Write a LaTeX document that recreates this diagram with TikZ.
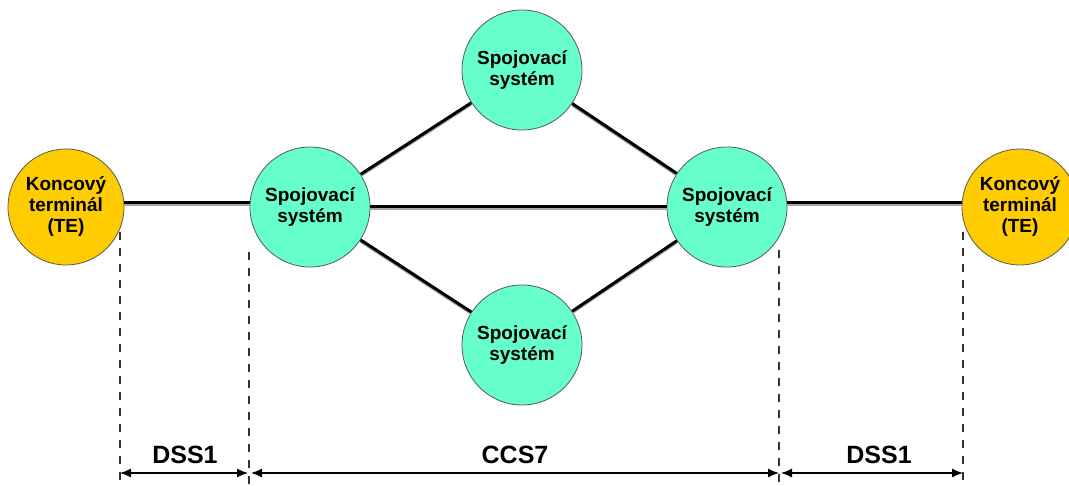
\documentclass[tikz,border=0pt]{standalone}
\usepackage{fontspec}
\setmainfont{Liberation Sans}
\usetikzlibrary{arrows.meta}
\definecolor{sscol}{RGB}{102,255,204}
\definecolor{tecol}{RGB}{255,204,0}
\begin{document}
\begin{tikzpicture}[x=1pt,y=-1pt,
  ss/.style={circle, draw=black!65, line width=0.8pt, fill=sscol, minimum size=120pt, inner sep=0pt, align=center, font=\fontsize{19}{21}\selectfont\bfseries},
  te/.style={circle, draw=black!65, line width=0.8pt, fill=tecol, minimum size=116pt, inner sep=0pt, align=center, font=\fontsize{19}{21}\selectfont\bfseries},
  link/.style={line width=3pt, black},
  shade/.style={line width=2pt, black!35, transform canvas={yshift=-2pt}},
  guide/.style={dash pattern=on 8pt off 8pt, line width=1.3pt, black!80},
  meas/.style={{Latex[length=11pt,width=9pt]}-{Latex[length=11pt,width=9pt]}, line width=1.3pt},
  lab/.style={font=\fontsize{25}{28}\selectfont\bfseries}]
\useasboundingbox (0,0) rectangle (1069,486);
% nodes
\node[te] (te1) at (66,207) {Koncový\\terminál\\(TE)};
\node[ss] (ssl) at (310,207) {Spojovací\\systém};
\node[ss] (sst) at (522,70) {Spojovací\\systém};
\node[ss] (ssb) at (522,345) {Spojovací\\systém};
\node[ss] (ssr) at (727,207) {Spojovací\\systém};
\node[te] (te2) at (1020,207) {Koncový\\terminál\\(TE)};
% links
\foreach \a/\b in {ssl/ssr, ssl/sst, sst/ssr, ssl/ssb, ssb/ssr}{
  \draw[shade] (\a) -- (\b);
  \draw[link] (\a) -- (\b);
}
\draw[shade] ([yshift=4pt]te1.east) -- ([yshift=4pt]ssl.west);
\draw[link] ([yshift=4pt]te1.east) -- ([yshift=4pt]ssl.west);
\draw[shade] ([yshift=4pt]ssr.east) -- ([yshift=4pt]te2.west);
\draw[link] ([yshift=4pt]ssr.east) -- ([yshift=4pt]te2.west);
% dimension guides
\coordinate (g1t) at (120,232); \coordinate (g1b) at (120,484);
\coordinate (g2t) at (249,252); \coordinate (g2b) at (249,484);
\coordinate (g3t) at (779,250); \coordinate (g3b) at (779,484);
\coordinate (g4t) at (963,232); \coordinate (g4b) at (963,484);
\draw[guide] (g1t) -- (g1b);
\draw[guide] (g2t) -- (g2b);
\draw[guide] (g3t) -- (g3b);
\draw[guide] (g4t) -- (g4b);
\coordinate (p1) at (120,473);
\coordinate (p2) at (249,473);
\coordinate (p3) at (779,473);
\coordinate (p4) at (963,473);
\draw[meas, shorten >=1pt] (p1) -- (p2);
\draw[meas, shorten <=2pt] (p2) -- (p3);
\draw[meas, shorten <=2pt] (p3) -- (p4);
\node[lab] (l1) at (185,455) {DSS1};
\node[lab] (l2) at (515,455) {CCS7};
\node[lab] (l3) at (879,455) {DSS1};
\end{tikzpicture}
\end{document}
